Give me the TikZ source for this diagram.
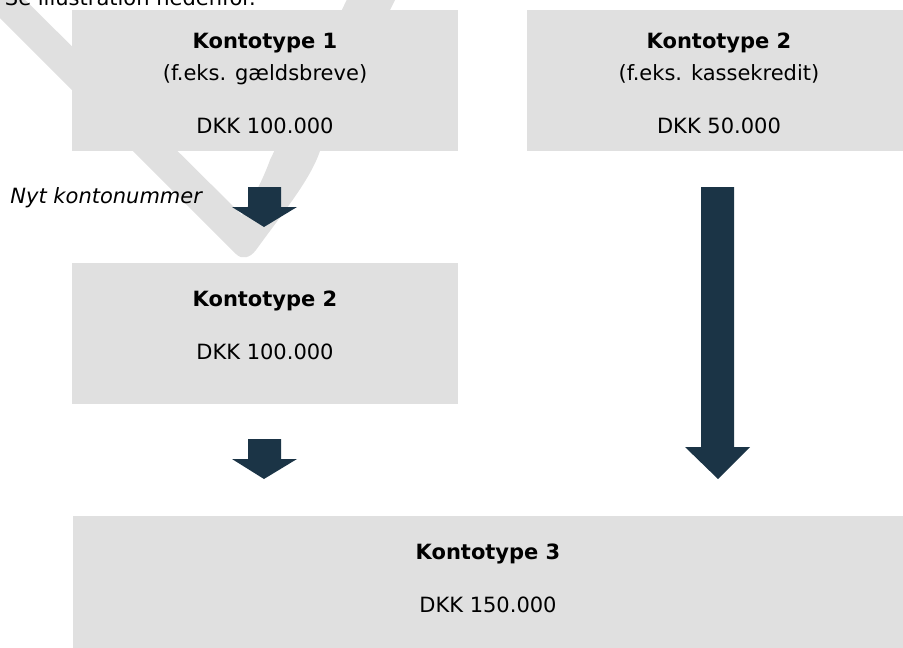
\documentclass[tikz,border=0pt]{standalone}
\usepackage{fontspec}
\setmainfont{DejaVu Sans}
\usetikzlibrary{positioning}
\definecolor{boxgray}{RGB}{224,224,224}
\definecolor{arrownavy}{RGB}{27,52,70}

\begin{document}
\begin{tikzpicture}[x=1pt,y=-1pt]
  \tikzset{BoxStyle/.style = {
    shape         = rectangle,
    fill          = boxgray,
    anchor        = north west,
    inner sep     = 0pt,
    outer sep     = 0pt,
    minimum width = 386pt,
    minimum height= 141pt
    }
  }
  \tikzset{TextStyle/.style = {
    anchor        = base,
    inner sep     = 0pt,
    outer sep     = 0pt,
    font          = \fontsize{21}{25}\selectfont,
    text          = black
    }
  }
  \tikzset{TitleStyle/.style = {
    TextStyle,
    font          = \fontsize{21}{25}\selectfont\bfseries
    }
  }
  \tikzset{ArrowStyle/.style = {fill = arrownavy}}
  \tikzset{MarkStyle/.style = {fill = boxgray}}

  \useasboundingbox (0,0) rectangle (903,648);

  % watermark behind everything
  \fill[MarkStyle] (-48,-30) -- (236,254) .. controls (242,260) and (250,258) .. (256,250)
    .. controls (285,210) and (310,180) .. (320,151) -- (410,-30)
    -- (361,-30) -- (270,160) .. controls (262,182) and (252,200) .. (242,215)
    -- (-5,-30) -- cycle;

	\node[BoxStyle](A1) at (72,10) {};
	\node[BoxStyle, minimum width=390pt](A2) at (527,10) {};
	\node[BoxStyle](B1) at (72,263) {};
	\node[BoxStyle, minimum width=830pt](C1) at (73,516) {};

	\fill[ArrowStyle] (248,187) -- (281,187) -- (281,207) -- (297,207)
	  -- (264,227) -- (232,207) -- (248,207) -- cycle;
	\fill[ArrowStyle] (248,439) -- (281,439) -- (281,459) -- (297,459)
	  -- (264,479) -- (232,459) -- (248,459) -- cycle;
	\fill[ArrowStyle] (701,187) -- (734,187) -- (734,447) -- (750,447)
	  -- (718,479) -- (685,447) -- (701,447) -- cycle;

	\node[TitleStyle](a1) at (265,48) {Kontotype 1};
	\node[TextStyle](a1s) at (265,80) {(f.eks. gældsbreve)};
	\node[TextStyle](a1v) at (265,133) {DKK 100.000};
	\node[TitleStyle](a2) at (719,48) {Kontotype 2};
	\node[TextStyle](a2s) at (719,80) {(f.eks. kassekredit)};
	\node[TextStyle](a2v) at (719,133) {DKK 50.000};
	\node[TitleStyle](b1) at (265,306) {Kontotype 2};
	\node[TextStyle](b1v) at (265,359) {DKK 100.000};
	\node[TitleStyle](c1) at (488,559) {Kontotype 3};
	\node[TextStyle](c1v) at (488,612) {DKK 150.000};

	\node[TextStyle, anchor=base east, font=\fontsize{21}{25}\selectfont\itshape](nyt) at (202,203) {Nyt kontonummer};
	\node[TextStyle, anchor=base west](se) at (5,5) {Se illustration nedenfor.};
  \end{tikzpicture}
\end{document}
